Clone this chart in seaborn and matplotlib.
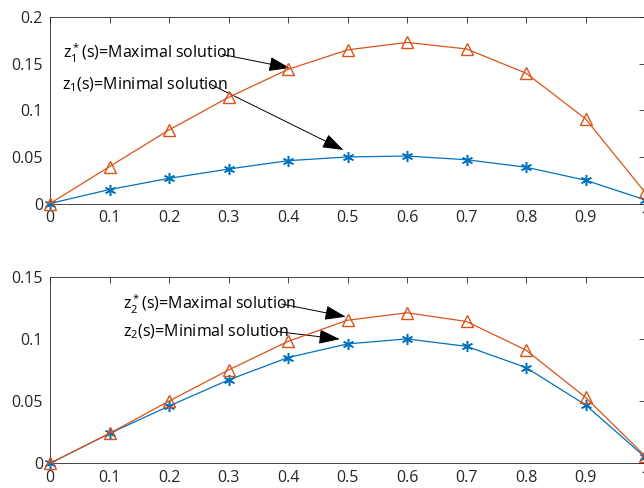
import numpy as np
import pandas as pd
import matplotlib
matplotlib.use("Agg")
import matplotlib.pyplot as plt
import seaborn as sns

s = [0, 0.1, 0.2, 0.3, 0.4, 0.5, 0.6, 0.7, 0.8, 0.9, 1.0]
z1_min = [0.0, 0.015, 0.027, 0.037, 0.046, 0.050, 0.051, 0.047, 0.039, 0.025, 0.004]
z1_max = [0.0, 0.0396, 0.079, 0.114, 0.144, 0.165, 0.173, 0.166, 0.140, 0.091, 0.012]
z2_min = [0.0, 0.024, 0.046, 0.067, 0.085, 0.096, 0.100, 0.094, 0.077, 0.047, 0.005]
z2_max = [0.0, 0.024, 0.050, 0.075, 0.098, 0.115, 0.121, 0.114, 0.091, 0.053, 0.006]
x_ticks = [0, 0.1, 0.2, 0.3, 0.4, 0.5, 0.6, 0.7, 0.8, 0.9, 1]
x_ticklabels = ["0", "0.1", "0.2", "0.3", "0.4", "0.5", "0.6", "0.7", "0.8", "0.9", "1"]
y1_ticks = [0, 0.05, 0.1, 0.15, 0.2]
y1_ticklabels = ["0", "0.05", "0.1", "0.15", "0.2"]
y2_ticks = [0, 0.05, 0.1, 0.15]
y2_ticklabels = ["0", "0.05", "0.1", "0.15"]

sns.set_style("white")
plt.rcParams["font.family"] = ["Open Sans", "DejaVu Sans"]
plt.rcParams["mathtext.fontset"] = "custom"
plt.rcParams["mathtext.rm"] = "Open Sans"
plt.rcParams["mathtext.it"] = "Open Sans"
plt.rcParams["mathtext.default"] = "rm"

BLUE = "#0072BD"
ORANGE = "#D95319"
AX = "#262626"

fig = plt.figure(figsize=(6.44, 4.88), dpi=100)
W, H = 644, 488
left = 50 / W
width = (645 - 50) / W
ax1 = fig.add_axes([left, 1 - 203.5 / H, width, (203.5 - 17.3) / H])
ax2 = fig.add_axes([left, 1 - 463.3 / H, width, (463.3 - 276.7) / H])

def draw(ax, zmin, zmax, yticks, yticklabels, ylim):
    df = pd.DataFrame({"s": s, "min": zmin, "max": zmax})
    sns.lineplot(data=df, x="s", y="min", ax=ax, color=BLUE, lw=0.9,
                 marker=(6, 2, 0), markersize=8, markeredgecolor=BLUE,
                 markeredgewidth=1.1, clip_on=False, zorder=3)
    sns.lineplot(data=df, x="s", y="max", ax=ax, color=ORANGE, lw=0.9,
                 marker="^", markersize=9, markerfacecolor="none",
                 markeredgecolor=ORANGE, markeredgewidth=1.0, clip_on=False,
                 zorder=4)
    ax.set_xlim(0, 1)
    ax.set_ylim(*ylim)
    ax.set_xticks(x_ticks)
    ax.set_xticklabels(x_ticklabels)
    ax.set_yticks(yticks)
    ax.set_yticklabels(yticklabels)
    ax.set_xlabel("")
    ax.set_ylabel("")
    ax.tick_params(direction="in", length=4.5, width=0.6, colors=AX,
                   labelsize=11.5, top=True, right=True, pad=5)
    for sp in ax.spines.values():
        sp.set_visible(True)
        sp.set_color(AX)
        sp.set_linewidth(0.6)

draw(ax1, z1_min, z1_max, y1_ticks, y1_ticklabels, (0, 0.2))
draw(ax2, z2_min, z2_max, y2_ticks, y2_ticklabels, (0, 0.15))

arrow = dict(arrowstyle="-|>,head_length=1.3,head_width=0.45", color="black",
             lw=0.7, shrinkA=0, shrinkB=0)

# top annotations
ax1.text(0.022, 0.161, r"$z^*_1$(s)=Maximal solution", fontsize=11.5,
         color="black", va="center", ha="left")
ax1.annotate("", xy=(0.403, 0.1455), xytext=(0.29, 0.160), arrowprops=arrow)
ax1.text(0.020, 0.128, r"$z_1$(s)=Minimal solution", fontsize=11.5,
         color="black", va="center", ha="left")
ax1.annotate("", xy=(0.493, 0.0575), xytext=(0.27, 0.128), arrowprops=arrow)

# bottom annotations
ax2.text(0.122, 0.128, r"$z^*_2$(s)=Maximal solution", fontsize=11.5,
         color="black", va="center", ha="left")
ax2.annotate("", xy=(0.497, 0.1178), xytext=(0.39, 0.128), arrowprops=arrow)
ax2.text(0.122, 0.106, r"$z_2$(s)=Minimal solution", fontsize=11.5,
         color="black", va="center", ha="left")
ax2.annotate("", xy=(0.487, 0.0998), xytext=(0.38, 0.106), arrowprops=arrow)

fig.savefig("out.png", dpi=100)
